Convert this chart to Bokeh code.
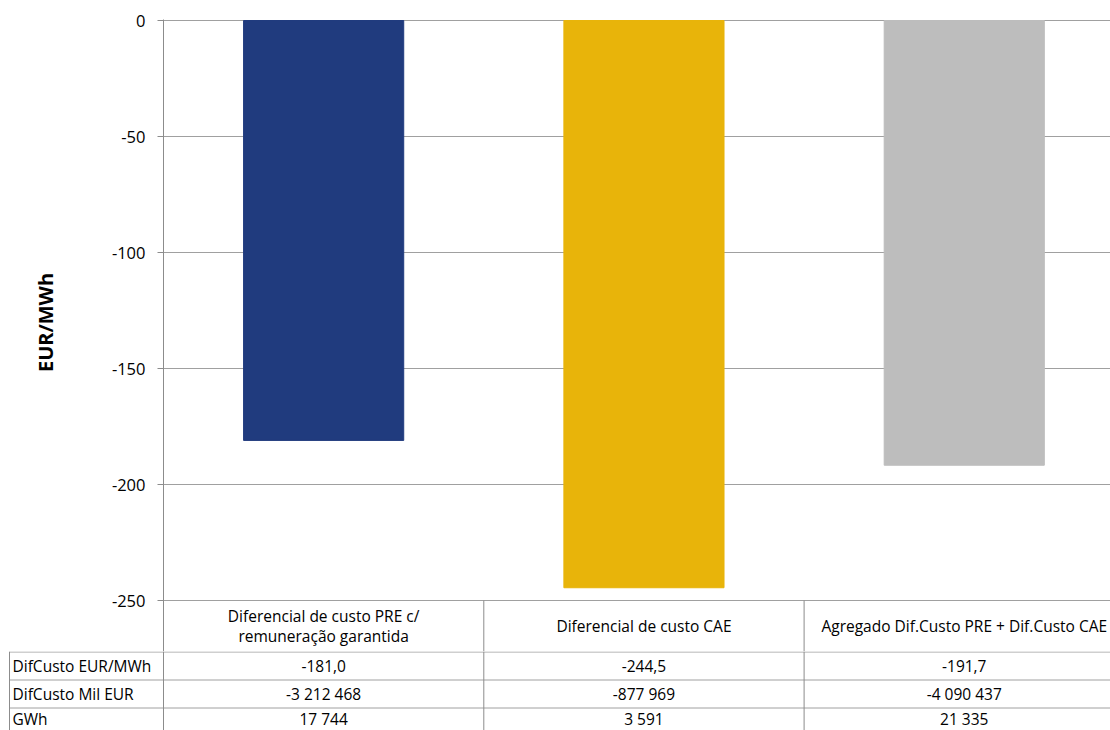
from bokeh.plotting import figure
from bokeh.models import Range1d, FixedTicker, ColumnDataSource, PrintfTickFormatter
from bokeh.layouts import column
from bokeh.embed import file_html
from bokeh.resources import INLINE
from bokeh.core.properties import value

# ---------------- data ----------------
categories = ["Diferencial de custo PRE c/\nremuneração garantida",
              "Diferencial de custo CAE",
              "Agregado Dif.Custo PRE + Dif.Custo CAE"]
eur_mwh = [-181.0, -244.5, -191.7]
mil_eur = [-3212468, -877969, -4090437]
gwh = [17744, 3591, 21335]
row_labels = ["DifCusto EUR/MWh", "DifCusto Mil EUR", "GWh"]
bar_colors = ["#203B7E", "#E8B40A", "#BDBDBD"]
y_ticks = [0, -50, -100, -150, -200, -250]

# ---------------- layout constants ----------------
W = 1110
LEFT = 163          # px of plot-area left edge
TOP = 19
UNIT = 320.3        # px per category
PPU = 2.32          # px per EUR/MWh
HEADER_H = 51
ROW_H = 28
ROWS_H = 79
LABEL_X = 9
FONT = "Open Sans"
GRID = "#A0A0A0"
AXIS = "#8C8C8C"
TXT = "15.5px"

x_end = (W - LEFT) / UNIT
xpos = [i + 0.5 for i in range(len(categories))]
y_min = min(y_ticks)
y_top = 1.0 / PPU
y_bottom = y_min - HEADER_H / PPU

def fmt_dec(v):
    return f"{v:.1f}".replace(".", ",")

def fmt_int(v):
    return f"{v:,}".replace(",", " ")

# ---------------- chart (with header row of the table) ----------------
p = figure(width=W, height=651, x_range=Range1d(0, x_end),
           y_range=Range1d(y_bottom, y_top), output_backend="svg",
           toolbar_location=None, x_axis_location=None,
           min_border_left=LEFT, min_border_right=0, min_border_top=TOP,
           min_border_bottom=0)
p.frame_align = False
p.outline_line_color = None
p.xgrid.visible = False
p.ygrid.grid_line_color = GRID
p.ygrid.ticker = FixedTicker(ticks=y_ticks)

src = ColumnDataSource(dict(x=xpos, top=eur_mwh, color=bar_colors))
p.vbar(x="x", top="top", bottom=0, width=0.5, color="color", source=src)

ya = p.yaxis[0]
ya.ticker = FixedTicker(ticks=y_ticks)
ya.formatter = PrintfTickFormatter(format="%d")
ya.axis_line_color = AXIS
ya.major_tick_line_color = AXIS
ya.major_tick_out = 6
ya.major_tick_in = 0
ya.minor_tick_line_color = None
ya.major_label_text_font = FONT
ya.major_label_text_font_size = "16.5px"
ya.major_label_text_color = "#000000"
ya.major_label_standoff = 12
ya.axis_label = "\u00a0" * 5 + "EUR/MWh"
ya.axis_label_text_font = FONT
ya.axis_label_text_font_size = "20px"
ya.axis_label_text_font_style = "bold"
ya.axis_label_text_color = "#000000"
ya.axis_label_standoff = 50

# header row: column separators and category names
p.segment(x0=[1, 2], y0=[y_min] * 2, x1=[1, 2], y1=[y_bottom] * 2,
          line_color=AXIS, line_width=1)
p.text(x=xpos, y=[y_min - (HEADER_H / 2) / PPU] * 3, text=categories,
       text_align="center", text_baseline="middle", text_font=value(FONT),
       text_font_size=TXT, text_color="#000000", text_line_height=0.95)

# ---------------- data rows of the table ----------------
t = figure(width=W, height=ROWS_H, x_range=Range1d(-LEFT / UNIT, x_end),
           y_range=Range1d(ROWS_H, 0), output_backend="svg",
           toolbar_location=None, x_axis_location=None, y_axis_location=None,
           min_border_left=0, min_border_right=0, min_border_top=0,
           min_border_bottom=0)
t.frame_align = False
t.outline_line_color = None
t.xgrid.visible = False
t.ygrid.visible = False

lx = (LABEL_X - LEFT) / UNIT
row_tops = [0.5 + i * ROW_H for i in range(len(row_labels))]
t.segment(x0=[lx] * 3, y0=row_tops, x1=[x_end] * 3, y1=row_tops,
          line_color=GRID, line_width=1)
t.segment(x0=[lx, 0, 1, 2], y0=[0] * 4, x1=[lx, 0, 1, 2], y1=[ROWS_H] * 4,
          line_color=AXIS, line_width=1)

# the last row is cut by the picture edge: keep its text inside the canvas
row_centers = [i * ROW_H + ROW_H / 2 for i in range(len(row_labels))]
row_centers[-1] = min(row_centers[-1], ROWS_H - 12)
t.text(x=[lx + 3 / UNIT] * 3, y=row_centers, text=row_labels, text_align="left",
       text_baseline="middle", text_font=value(FONT), text_font_size=TXT,
       text_color="#000000")

rows = [[fmt_dec(v) for v in eur_mwh],
        [fmt_int(v) for v in mil_eur],
        [fmt_int(v) for v in gwh]]
for yc, vals in zip(row_centers, rows):
    t.text(x=xpos, y=[yc] * 3, text=vals, text_align="center",
           text_baseline="middle", text_font=value(FONT), text_font_size=TXT,
           text_color="#000000")

layout = column(p, t, spacing=0)
open("out.html", "w").write(file_html(layout, INLINE))
